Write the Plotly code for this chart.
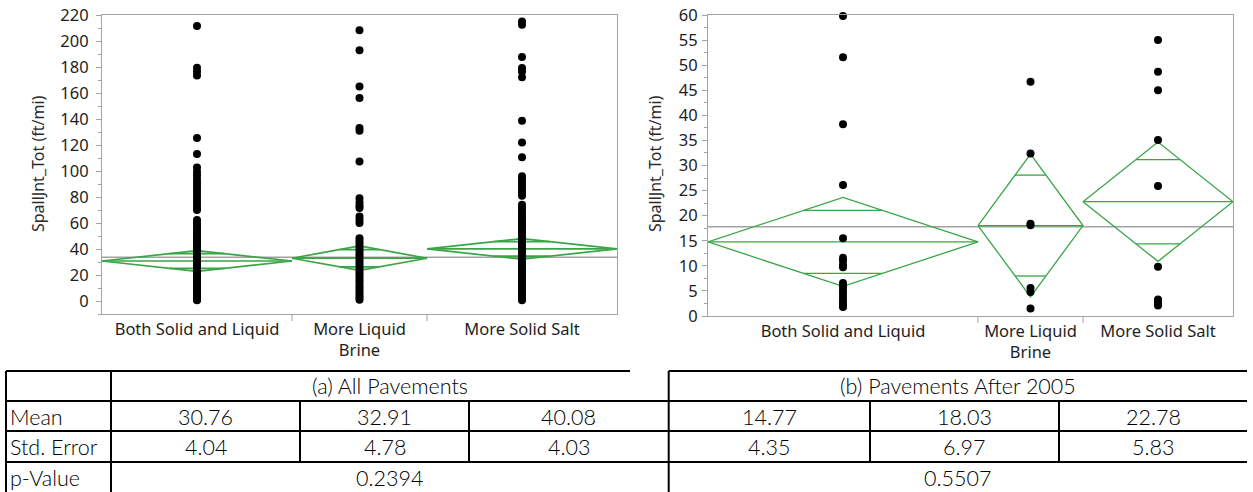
import math
import plotly.graph_objects as go

W, H = 1253, 492

categories = ["Both Solid and Liquid", "More Liquid<br>Brine", "More Solid Salt"]
y_title = "SpallJnt_Tot (ft/mi)"

# ---- (a) All Pavements ----
left_n = [76, 54, 76]
left_mean = [30.76, 32.91, 40.08]
left_se = [4.04, 4.78, 4.03]
left_t = 1.97
left_grand_mean = 33.6
left_p = "0.2394"
left_both = [211.5, 179.5, 176.5, 173.5, 125.3, 113.0, 102.7, 99.5, 97.0, 94.0, 91.5, 89.0,
             86.5, 84.0, 81.5, 79.0, 76.5, 74.0, 71.5, 70.0, 62.4, 60.0, 58.0, 56.0, 54.0,
             52.0, 50.0, 48.0, 46.0, 44.5, 43.0, 41.5, 40.0, 38.5, 37.0, 35.5, 34.0, 32.5,
             31.0, 29.5, 28.0, 26.5, 25.0, 23.5, 22.0, 20.5, 19.0, 17.5, 16.0, 14.5, 13.0,
             11.5, 10.0, 8.5, 7.0, 5.5, 4.0, 3.0, 2.0, 1.0, 0.5]
left_liquid = [208.2, 192.8, 165.0, 156.1, 133.0, 131.0, 107.3, 79.0, 76.0, 73.5, 71.5, 65.0,
               62.5, 60.0, 48.3, 46.0, 44.0, 42.0, 40.0, 38.0, 36.0, 34.0, 32.0, 30.0, 28.0,
               26.0, 24.0, 22.0, 20.0, 18.0, 16.0, 14.0, 12.0, 10.0, 8.0, 6.0, 4.0, 2.5, 1.0]
left_solid = [215.0, 212.5, 187.6, 179.2, 176.6, 172.2, 138.6, 121.9, 110.6, 96.0, 93.5, 91.0,
              88.5, 86.0, 83.5, 81.0, 74.0, 71.5, 69.0, 67.0, 65.0, 63.0, 61.0, 59.0, 57.0,
              55.0, 53.0, 51.0, 49.0, 47.0, 45.0, 43.0, 41.0, 39.0, 37.0, 35.0, 33.0, 31.0,
              29.0, 27.0, 25.0, 23.0, 21.0, 19.0, 17.0, 15.0, 13.0, 11.0, 9.0, 7.0, 5.0, 3.0,
              1.5, 0.5]

# ---- (b) Pavements After 2005 ----
right_n = [18, 7, 10]
right_mean = [14.77, 18.03, 22.78]
right_se = [4.35, 6.97, 5.83]
right_t = 2.04
right_grand_mean = 17.8
right_p = "0.5507"
right_both = [59.8, 51.6, 38.2, 26.1, 15.5, 11.6, 11.0, 10.2, 9.7, 6.6, 5.9, 5.2, 4.6, 3.9,
              3.2, 2.6, 2.2, 1.8]
right_liquid = [46.7, 32.4, 18.4, 18.1, 5.6, 4.8, 1.5]
right_solid = [55.0, 48.7, 45.0, 35.1, 25.9, 9.8, 3.3, 2.7, 2.4, 2.1]

table_titles = ["(a) All Pavements", "(b) Pavements After 2005"]
row_labels = ["Mean", "Std. Error", "p-Value"]

GREEN = "#38a646"
GRAY = "#a3a3a3"

fig = go.Figure()


def pxx(x):
    return x / W


def pyy(y):
    return 1 - y / H


fig_dom = {"y": (pyy(314), pyy(15)), "y2": (pyy(316), pyy(15))}


def add_panel(xref, yref, n, means, ses, tq, groups, grand, lw):
    total = sum(n)
    bounds = [0]
    for v in n:
        bounds.append(bounds[-1] + v)
    centers = [(bounds[i] + bounds[i + 1]) / 2 for i in range(len(n))]
    fig.add_trace(go.Scatter(x=[0, total], y=[grand, grand], mode="lines",
                             line=dict(color=GRAY, width=1.5), xaxis=xref, yaxis=yref,
                             hoverinfo="skip", showlegend=False))
    r2 = 1 / math.sqrt(2)
    for i in range(len(n)):
        l, r, c = bounds[i], bounds[i + 1], centers[i]
        m = means[i]
        h = tq * ses[i]
        fig.add_trace(go.Scatter(x=[l, c, r, c, l], y=[m, m + h, m, m - h, m], mode="lines",
                                 line=dict(color=GREEN, width=lw), xaxis=xref, yaxis=yref,
                                 hoverinfo="skip", showlegend=False))
        fig.add_trace(go.Scatter(x=[l, r], y=[m, m], mode="lines",
                                 line=dict(color=GREEN, width=lw), xaxis=xref, yaxis=yref,
                                 hoverinfo="skip", showlegend=False))
        hw = (r - l) / 2 * (1 - r2)
        for s in (1, -1):
            yy = m + s * h * r2
            fig.add_trace(go.Scatter(x=[c - hw, c + hw], y=[yy, yy], mode="lines",
                                     line=dict(color=GREEN, width=lw), xaxis=xref, yaxis=yref,
                                     hoverinfo="skip", showlegend=False))
    for i, vals in enumerate(groups):
        fig.add_trace(go.Scatter(x=[centers[i]] * len(vals), y=vals, mode="markers",
                                 marker=dict(color="black", size=8), xaxis=xref, yaxis=yref,
                                 cliponaxis=False, showlegend=False))
    for b in bounds[1:-1]:
        fig.add_shape(type="line", xref=xref, yref="paper", x0=b, x1=b,
                      y0=fig_dom[yref][0], y1=fig_dom[yref][0] - 7 / H,
                      line=dict(color=GRAY, width=1))
    return total, centers


lt, lc = add_panel("x", "y", left_n, left_mean, left_se, left_t,
                   [left_both, left_liquid, left_solid], left_grand_mean, 1.7)
rt, rc = add_panel("x2", "y2", right_n, right_mean, right_se, right_t,
                   [right_both, right_liquid, right_solid], right_grand_mean, 1.3)

tickfont = dict(family="Noto Sans", size=16.5, color="#1e1e1e")
axis_common = dict(showline=True, linecolor=GRAY, linewidth=1, mirror=True, showgrid=False,
                   zeroline=False, tickfont=tickfont, automargin=False)

fig.update_layout(
    width=W, height=H, margin=dict(l=0, r=0, t=0, b=0, pad=0, autoexpand=False),
    paper_bgcolor="white", plot_bgcolor="white", showlegend=False,
    xaxis=dict(domain=[pxx(102), pxx(617)], range=[0, lt], tickvals=lc, ticktext=categories,
               ticks="", anchor="y", **axis_common),
    yaxis=dict(domain=list(fig_dom["y"]), range=[-10, 220], tick0=0, dtick=20, ticks="outside",
               ticklen=5, tickcolor=GRAY, anchor="x", ticklabelstandoff=4,
               minor=dict(dtick=10, ticks="outside", ticklen=3, tickcolor=GRAY), **axis_common),
    xaxis2=dict(domain=[pxx(708), pxx(1233)], range=[0, rt], tickvals=rc, ticktext=categories,
                ticks="", anchor="y2", **axis_common),
    yaxis2=dict(domain=list(fig_dom["y2"]), range=[0, 60], tick0=0, dtick=5, ticks="outside",
                ticklen=5, tickcolor=GRAY, anchor="x2", ticklabelstandoff=1,
                minor=dict(dtick=2.5, ticks="outside", ticklen=3, tickcolor=GRAY), **axis_common),
)

for xp in (38, 655):
    fig.add_annotation(x=pxx(xp), y=pyy(164), xref="paper", yref="paper", text=y_title,
                       textangle=-90, showarrow=False, xanchor="center", yanchor="middle",
                       font=dict(family="Noto Sans", size=16, color="#2a2a2a"))

# ---- table ----
LINE = dict(color="black", width=2)
col_x = [6, 111, 300, 469, 668.7, 870, 1059, 1247]
row_y = [371, 401, 431, 462, 492]


def hline(x0, x1, y):
    fig.add_shape(type="line", xref="paper", yref="paper", x0=pxx(x0), x1=pxx(x1),
                  y0=pyy(y), y1=pyy(y), line=LINE)


def vline(x, y0, y1):
    fig.add_shape(type="line", xref="paper", yref="paper", x0=pxx(x), x1=pxx(x),
                  y0=pyy(y0), y1=pyy(y1), line=LINE)


hline(col_x[0], 630, row_y[0])
hline(col_x[4], col_x[7], row_y[0])
for yy in row_y[1:4]:
    hline(col_x[0], col_x[7], yy)
vline(col_x[0], row_y[0], row_y[4])
vline(col_x[1], row_y[0], row_y[4])
vline(col_x[4], row_y[0], row_y[4])
for xx in (col_x[2], col_x[3], col_x[5], col_x[6]):
    vline(xx, row_y[1], row_y[3])

tfont = dict(family="Lato", size=21.5, color="#000000", weight=300)


def ttext(x, y, s, anchor="center"):
    fig.add_annotation(x=pxx(x), y=pyy(y), xref="paper", yref="paper", text=s, showarrow=False,
                       xanchor=anchor, yanchor="middle", font=tfont)


row_mid = [386, 417, 447, 478]
ttext((col_x[1] + col_x[4]) / 2, row_mid[0], table_titles[0])
ttext((col_x[4] + col_x[7]) / 2, row_mid[0], table_titles[1])
for i, lab in enumerate(row_labels):
    ttext(8, row_mid[i + 1], lab, anchor="left")
means_all = left_mean + right_mean
se_all = left_se + right_se
for j in range(6):
    c0, c1 = col_x[j + 1], col_x[j + 2]
    ttext((c0 + c1) / 2, row_mid[1], f"{means_all[j]:.2f}")
    ttext((c0 + c1) / 2, row_mid[2], f"{se_all[j]:.2f}")
ttext((col_x[1] + col_x[4]) / 2, row_mid[3], left_p)
ttext((col_x[4] + col_x[7]) / 2, row_mid[3], right_p)

fig.write_html("out.html", config={"displayModeBar": False},
               post_script="document.body.style.margin='0';")
